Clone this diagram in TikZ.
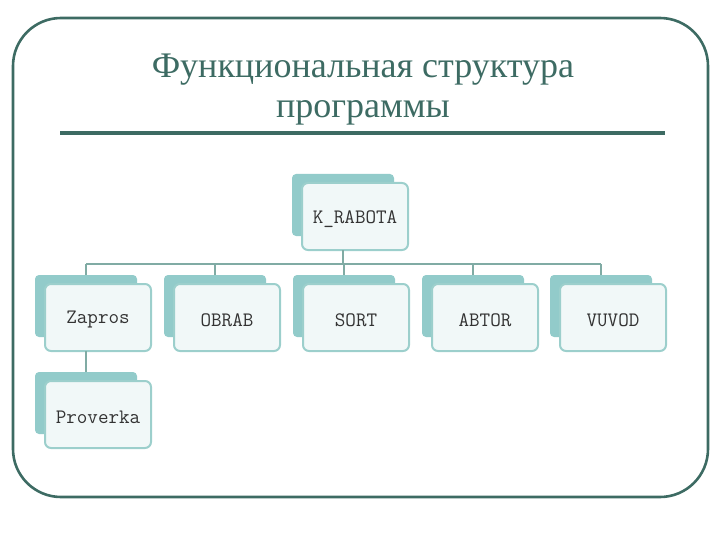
\documentclass[tikz,border=0pt]{standalone}
\usepackage{fontspec}
\setmainfont{Liberation Serif}
\definecolor{frame}{HTML}{3D6B63}
\definecolor{backfill}{HTML}{92CBCA}
\definecolor{frontedge}{HTML}{9CCFCC}
\definecolor{frontfill}{HTML}{F1F8F8}
\definecolor{link}{HTML}{80ABA4}
\tikzset{
  backbox/.style={fill=backfill, rounded corners=4pt},
  frontbox/.style={draw=frontedge, fill=frontfill, line width=2pt, rounded corners=6pt},
  lbl/.style={font=\ttfamily\fontsize{20.5}{23}\selectfont, text=black!80},
  linkline/.style={draw=link, line width=2pt},
}
\newcommand{\tbox}[4]{% name, front-left x, top y, text
  \fill[backbox] (#2-10,#3-9) rectangle (#2+92,#3+53);
  \draw[frontbox] (#2,#3) rectangle (#2+106,#3+67);
  \node[lbl] (#1) at (#2+53,#3+36) {#4};
  \coordinate (#1-top) at (#2+41,#3-9);
  \coordinate (#1-bot) at (#2+41,#3+67);
}
\begin{document}
\begin{tikzpicture}[x=1pt,y=-1pt]
\useasboundingbox (0,0) rectangle (720,540);
\draw[frame, line width=2.6pt, rounded corners=48pt] (13,18) rectangle (708,497);
\node[text=frame, font=\fontsize{36}{40}\selectfont, align=center] (title) at (363,90) {Функциональная структура\\программы};
\draw[frame, line width=4pt] (60,133) -- (665,133);
\tbox{krab}{302}{183}{K\_RABOTA}
\tbox{zap}{45}{284}{Zapros}
\tbox{obr}{174}{284}{OBRAB}
\tbox{sort}{303}{284}{SORT}
\tbox{abt}{432}{284}{ABTOR}
\tbox{vuv}{560}{284}{VUVOD}
\tbox{prov}{45}{381}{Proverka}
\coordinate (hl) at (86,264);
\coordinate (hr) at (601,264);
\draw[linkline] (hl) -- (hr);
\draw[linkline] (krab-bot) -- (krab-bot |- hl);
\foreach \n in {zap,obr,sort,abt,vuv}{
  \draw[linkline] (\n-top |- hl) -- (\n-top);
}
\draw[linkline] (zap-bot) -- (prov-top);
\end{tikzpicture}
\end{document}
